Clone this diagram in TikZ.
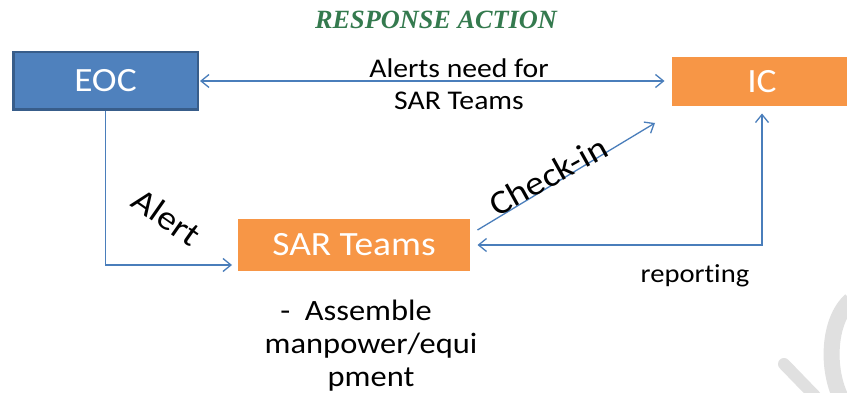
\documentclass[tikz,border=0pt]{standalone}
\usepackage{fontspec}
\usetikzlibrary{arrows.meta,shadows}
\newfontfamily\calfont[FakeStretch=1.1,RawFeature={-liga;-clig;-dlig;-calt}]{Carlito}
\newfontfamily\titlefont{Liberation Serif}
\definecolor{boxblue}{HTML}{4F81BD}
\definecolor{boxblueborder}{HTML}{385D8A}
\definecolor{boxorange}{HTML}{F79646}
\definecolor{linkblue}{HTML}{4A7EBB}
\definecolor{titlegreen}{HTML}{347A4E}
\tikzset{
  bluebox/.style={rectangle, fill=boxblue, draw=boxblueborder, line width=2.5pt,
    text=white, font=\calfont\fontsize{34}{40}\selectfont, inner sep=0pt},
  orangebox/.style={rectangle, fill=boxorange, draw=white, line width=5pt,
    text=white, font=\calfont\fontsize{34}{40}\selectfont, inner sep=0pt,
    drop shadow={shadow xshift=1.5pt, shadow yshift=-2pt, fill=black!35, opacity=.45}},
  link/.style={draw=linkblue, line width=1.3pt},
  tip/.tip={Straight Barb[length=8pt,width=13pt,line width=1.3pt]},
  onehead/.style={link, -tip},
  twohead/.style={link, tip-tip},
  lbl/.style={font=\calfont\fontsize{26}{32}\selectfont, text=black, inner sep=0pt, align=center},
}
\begin{document}
\begin{tikzpicture}[x=1pt,y=1pt]
\clip (0,0) rectangle (847,-393);
\fill[white] (0,0) rectangle (847,-393);
% watermark fragment
\draw[black!12, line width=12pt, line cap=round] (784,-364) -- (815,-396);
\draw[black!12, line width=16pt] (851,-300) .. controls (828,-320) and (826,-370) .. (842,-400);
% title
\node[font=\titlefont\bfseries\itshape\fontsize{26.3}{30}\selectfont, text=titlegreen, anchor=base, inner sep=0pt] (title) at (436,-29) {RESPONSE ACTION};
% boxes
\node[bluebox, minimum width=184.5pt, minimum height=57.5pt] (eoc) at (105.5,-81) {EOC};
\node[orangebox, minimum width=185pt, minimum height=54pt] (ic) at (762,-81.5) {IC};
\node[orangebox, minimum width=237pt, minimum height=57pt] (sar) at (354,-245) {SAR Teams};
\coordinate (ck) at (655,-123);
% connectors
\draw[twohead] ([xshift=1pt]eoc.east) -- ([xshift=-2.5pt]eoc.east -| ic.west);
\draw[onehead] (eoc.south) |- ([xshift=-1pt,yshift=-20pt]sar.west);
\draw[twohead] ([xshift=2.5pt]sar.east) -| ([yshift=-2.5pt]ic.south);
\draw[onehead] ([xshift=2.5pt,yshift=15pt]sar.east) -- (ck);
% labels
\node[lbl, font=\calfont\fontsize{27}{32}\selectfont] (needlbl) at (459,-84) {Alerts need for\\SAR Teams};
\node[lbl, font=\calfont\fontsize{34}{40}\selectfont, rotate=29] (checklbl) at (548,-176) {Check-in};
\node[lbl, font=\calfont\fontsize{34}{40}\selectfont, rotate=-35] (alertlbl) at (167,-217) {Alert};
\node[lbl, anchor=base] (replbl) at (695,-283) {report\kern0pt ing};
\node[lbl, font=\calfont\fontsize{29.5}{33}\selectfont] (asmlbl) at (371,-346) {-\ \ Assemble\rule{30pt}{0pt}\\manpower/equi\\pment};
\end{tikzpicture}
\end{document}
